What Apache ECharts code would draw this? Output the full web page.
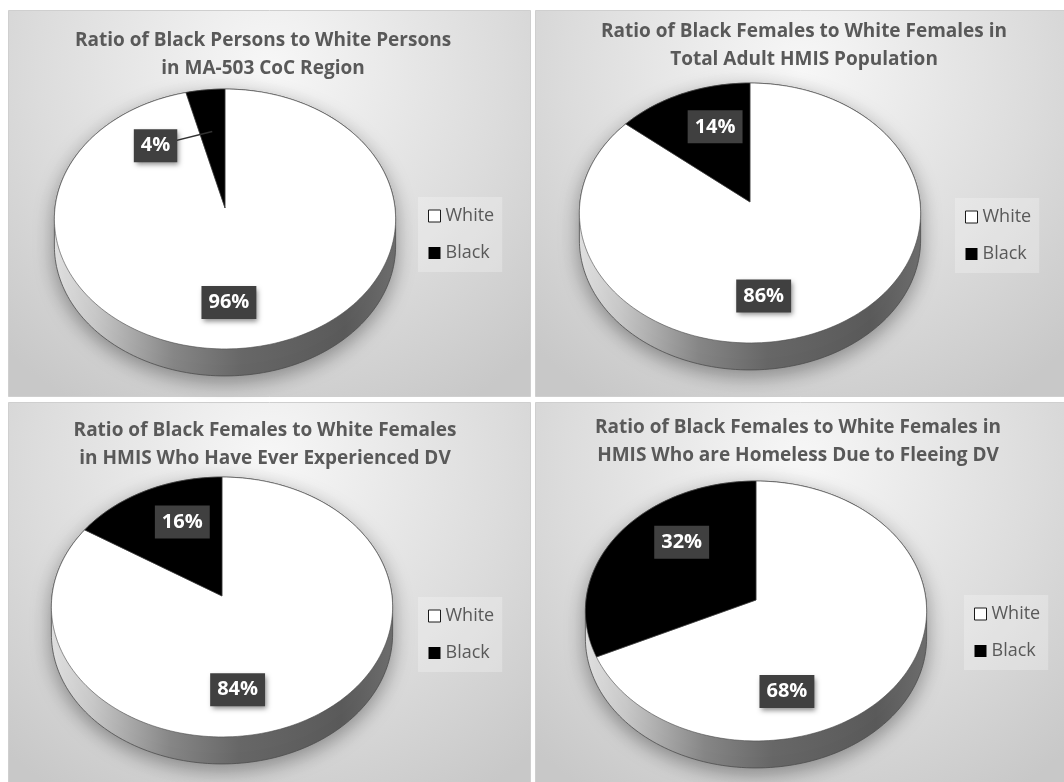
<!DOCTYPE html>
<html>
<head>
<meta charset="utf-8">
<script src="https://cdn.jsdelivr.net/npm/echarts@6/dist/echarts.min.js"></script>
<style>
  html, body { margin: 0; padding: 0; background: #ffffff; }
  #chart { width: 1064px; height: 782px; }
</style>
</head>
<body>
<div id="chart"></div>
<script>
// ---- data ----
const panelTitles = [
  'Ratio of Black Persons to White Persons\nin MA-503 CoC Region',
  'Ratio of Black Females to White Females in\nTotal Adult HMIS Population',
  'Ratio of Black Females to White Females\nin HMIS Who Have Ever Experienced DV',
  'Ratio of Black Females to White Females in\nHMIS Who are Homeless Due to Fleeing DV'
];
const categories = ['White', 'Black'];
const whitePct = [96, 86, 84, 68];
const blackPct = [4, 14, 16, 32];

// ---- layout ----
const FONT = '"Open Sans", Lato, "DejaVu Sans", sans-serif';
const panels = [
  { x: 8,   y: 10,  w: 522, h: 386, titleX: 263, titleY: 27,  cx: 225, cy: 208, legX: 418, legY: 197 },
  { x: 535, y: 10,  w: 531, h: 386, titleX: 804, titleY: 18,  cx: 750, cy: 202, legX: 955, legY: 198 },
  { x: 8,   y: 402, w: 522, h: 392, titleX: 265, titleY: 417, cx: 222, cy: 596, legX: 418, legY: 597 },
  { x: 535, y: 402, w: 531, h: 392, titleX: 798, titleY: 414, cx: 756, cy: 600, legX: 964, legY: 595 }
];
const RX = 170;        // horizontal radius of the tilted disc (px)
const RY = 129;        // vertical scale of the tilted disc (px)
const TILT = 0.0847;   // perspective factor: far edge smaller than near edge
const DEPTH = 27;      // thickness of the disc (px)
const SILHOUETTE = Math.acos(-TILT) * 180 / Math.PI;
const sliceColors = { White: '#ffffff', Black: '#000000' };

// angle in degrees, clockwise from 12 o'clock; r in disc radii
function project(api, deg, r, drop) {
  const a = deg * Math.PI / 180;
  const s = r * Math.cos(a);
  const t = r * Math.sin(a);
  const d = 1 + TILT * s;
  return api.coord([t / d, s / d - (drop || 0) / RY]);
}
function arc(api, a0, a1, r, drop) {
  const n = Math.max(2, Math.ceil(Math.abs(a1 - a0) / 1.5));
  const pts = [];
  for (let i = 0; i <= n; i++) pts.push(project(api, a0 + (a1 - a0) * i / n, r, drop));
  return pts;
}

// rim + drop shadow of the whole disc
function renderRim(params, api) {
  const pts = arc(api, -SILHOUETTE, SILHOUETTE, 1, 0)
    .concat(arc(api, SILHOUETTE, 360 - SILHOUETTE, 1, DEPTH));
  return {
    type: 'polygon',
    shape: { points: pts },
    style: {
      fill: new echarts.graphic.LinearGradient(0, 0, 1, 0, [
        { offset: 0, color: '#e2e2e2' },
        { offset: 0.12, color: '#c8c8c8' },
        { offset: 0.35, color: '#868686' },
        { offset: 0.55, color: '#676767' },
        { offset: 0.85, color: '#5a5a5a' },
        { offset: 1, color: '#6e6e6e' }
      ]),
      stroke: '#4d4d4d',
      lineWidth: 0.8,
      shadowBlur: 20,
      shadowOffsetY: 6,
      shadowColor: 'rgba(0,0,0,0.36)'
    }
  };
}

// one slice of the top face, with its value label
function renderSlice(color) {
  return function (params, api) {
    const start = api.value(0), end = api.value(1), value = api.value(2);
    const a0 = start * 3.6, a1 = end * 3.6;
    const apex = project(api, 0, 0);
    const children = [{
      type: 'polygon',
      shape: { points: [apex].concat(arc(api, a0, a1, 1, 0)) },
      style: { fill: color, stroke: '#4a4a4a', lineWidth: 0.6 }
    }];
    let mid = (a0 + a1) / 2;
    if (mid > 180) mid -= 360;
    let ang, r, leader = false;
    if (value >= 50) {
      const m = mid < 0 ? mid + 360 : mid;
      ang = 180 + (m - 180) * 0.25; r = 0.69;
    } else if (value >= 8) {
      ang = mid * 0.77; r = 0.65;
    } else {
      ang = mid + (mid < 0 ? -33 : 33); r = 0.66; leader = true;
    }
    const pos = project(api, ang, r);
    if (leader) {
      const tip = project(api, mid, 0.63);
      children.push({
        type: 'line',
        shape: { x1: pos[0], y1: pos[1], x2: tip[0], y2: tip[1] },
        style: { stroke: '#333333', lineWidth: 1.5 }
      });
    }
    children.push({
      type: 'text',
      x: pos[0], y: pos[1],
      style: {
        text: value + '%',
        fill: '#ffffff',
        font: 'bold 20px ' + FONT,
        align: 'center',
        verticalAlign: 'middle',
        backgroundColor: '#404040',
        padding: [7, 7, 6, 7],
        shadowBlur: 5,
        shadowOffsetX: 2,
        shadowOffsetY: 3,
        shadowColor: 'rgba(0,0,0,0.45)'
      }
    });
    return { type: 'group', children: children };
  };
}

const grids = [], xAxes = [], yAxes = [], titles = [], legends = [], series = [], graphics = [];
panels.forEach(function (p, i) {
  graphics.push({
    type: 'rect', z: -10,
    shape: { x: p.x + 0.5, y: p.y + 0.5, width: p.w, height: p.h },
    style: {
      fill: new echarts.graphic.RadialGradient(0.5, 0.15, 1.0, [
        { offset: 0, color: '#f7f7f7' },
        { offset: 0.6, color: '#dcdcdc' },
        { offset: 1, color: '#c8c8c8' }
      ]),
      stroke: '#cfcfcf', lineWidth: 1
    }
  });
  grids.push({ left: p.cx - RX, top: p.cy - RY, width: 2 * RX, height: 2 * RY });
  xAxes.push({ type: 'value', gridIndex: i, min: -1, max: 1, show: false });
  yAxes.push({ type: 'value', gridIndex: i, min: -1, max: 1, show: false });
  titles.push({
    text: panelTitles[i], left: p.titleX, top: p.titleY, textAlign: 'center', padding: 0,
    textStyle: { fontFamily: FONT, fontSize: 19, fontWeight: 'bold', color: '#595959', lineHeight: 28 }
  });
  legends.push({
    orient: 'vertical', left: p.legX, top: p.legY, selectedMode: false,
    icon: 'rect', itemWidth: 12, itemHeight: 12, itemGap: 17,
    padding: [9, 8, 9, 10],
    backgroundColor: 'rgba(255,255,255,0.25)',
    textStyle: { fontFamily: FONT, fontSize: 18, color: '#595959', lineHeight: 20 },
    data: categories.map(function (c) {
      return { name: c, itemStyle: c === 'White'
        ? { color: '#ffffff', borderColor: '#1a1a1a', borderWidth: 1 }
        : { color: '#000000', borderWidth: 0 } };
    })
  });
  const total = whitePct[i] + blackPct[i];
  series.push({
    type: 'custom', name: 'rim', xAxisIndex: i, yAxisIndex: i, z: 1, silent: true,
    renderItem: renderRim, data: [[0, total, total]]
  });
  series.push({
    type: 'custom', name: categories[0], xAxisIndex: i, yAxisIndex: i, z: 2, silent: true,
    itemStyle: { color: sliceColors.White },
    renderItem: renderSlice(sliceColors.White),
    data: [[0, whitePct[i], whitePct[i]]]
  });
  series.push({
    type: 'custom', name: categories[1], xAxisIndex: i, yAxisIndex: i, z: 2, silent: true,
    itemStyle: { color: sliceColors.Black },
    renderItem: renderSlice(sliceColors.Black),
    data: [[whitePct[i], whitePct[i] + blackPct[i], blackPct[i]]]
  });
});

const chart = echarts.init(document.getElementById('chart'), null, { renderer: 'canvas' });
chart.setOption({
  animation: false,
  backgroundColor: '#ffffff',
  graphic: graphics,
  title: titles,
  legend: legends,
  grid: grids,
  xAxis: xAxes,
  yAxis: yAxes,
  series: series
});
</script>
</body>
</html>
